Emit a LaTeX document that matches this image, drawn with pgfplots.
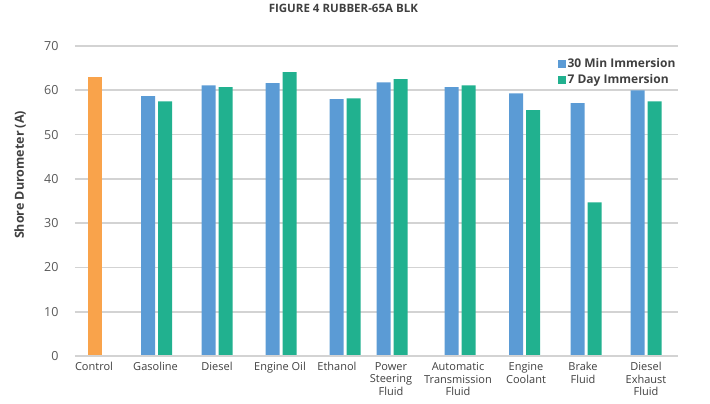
\documentclass[border=0pt]{standalone}
\usepackage{pgfplots}
\pgfplotsset{compat=1.18}
\usepackage{pgfplotstable}
\usepackage{fontspec}
\setmainfont{Open Sans}
\definecolor{barblue}{HTML}{5B9BD5}
\definecolor{bargreen}{HTML}{21B18F}
\definecolor{barorange}{HTML}{F9A34B}
\definecolor{gridgray}{HTML}{D3D3D3}
\definecolor{txt}{HTML}{404040}
\definecolor{ticktxt}{HTML}{595959}

% x = centre of each pair of bars, in pixels of the original
\pgfplotstableread{
x      min30  day7
156.5  58.7   57.5
217    61.1   60.7
281    61.6   64.1
345    58.0   58.2
392    61.8   62.5
460    60.7   61.1
524.5  59.3   55.5
586    57.1   34.7
646    60.0   57.5
}\immersion

\begin{document}
\begin{tikzpicture}
\path (0pt,0pt) rectangle (710pt,404pt);
\begin{axis}[
  at={(75pt,48pt)}, anchor=south west,
  scale only axis, width=603pt, height=310pt,
  xmin=75, xmax=678, ymin=0, ymax=70,
  ybar, bar width=14,
  axis line style={draw=none},
  axis x line*=bottom,
  ytick={0,10,...,70},
  ymajorgrids, grid style={gridgray, line width=1.6pt},
  major tick length=0pt,
  xtick={94,155.5,217,280,337,391,458,526,583,646},
  xticklabels={Control, Gasoline, Diesel, Engine Oil, Ethanol,
    {Power\\Steering\\Fluid}, {Automatic\\Transmission\\Fluid},
    {Engine\\Coolant}, {Brake\\Fluid}, {Diesel\\Exhaust\\Fluid}},
  xticklabel style={font=\fontsize{11}{12.5}\selectfont, text=txt, align=center, anchor=north, yshift=-3pt},
  yticklabel style={font=\fontsize{12.5}{14}\selectfont, text=ticktxt, xshift=-13pt},
  /pgf/number format/assume math mode=true,
  ylabel={\bfseries Shore Durometer (A)},
  ylabel style={font=\fontsize{12.5}{14}\selectfont, text=txt, at={(axis description cs:-0.091,0.584)}, anchor=center, rotate=0},
  title={\bfseries FIGURE 4 RUBBER-65A BLK},
  title style={font=\fontsize{11.5}{13}\selectfont, text=txt, at={(axis description cs:0.445,1.103)}, anchor=center},
  legend style={draw=none, fill=none, at={(axis description cs:0.800,0.966)}, anchor=north west,
    font=\bfseries\fontsize{12}{14}\selectfont, text=txt, row sep=1pt,
    legend cell align=left, inner sep=0pt},
  legend image code/.code={\draw[#1,draw=none] (-5pt,-4pt) rectangle (3pt,4pt);},
  clip=false,
]
\addplot[fill=barorange, draw=none, bar shift=0, forget plot] coordinates {(94.5,63.0)};
\addplot[fill=barblue, draw=none, bar shift=-8.5] table[x=x, y=min30] {\immersion};
\addplot[fill=bargreen, draw=none, bar shift=8.5] table[x=x, y=day7] {\immersion};
\draw[gridgray, line width=1.6pt] (axis cs:75,0) -- (axis cs:678,0);
\legend{30 Min Immersion, 7 Day Immersion}
\end{axis}
\end{tikzpicture}
\end{document}
